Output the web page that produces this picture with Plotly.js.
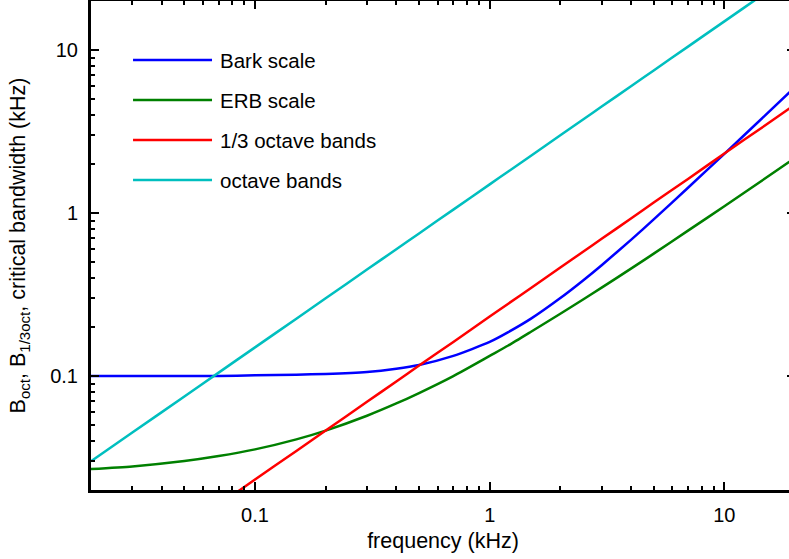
<!DOCTYPE html>
<html>
<head>
<meta charset="utf-8">
<script src="https://cdn.plot.ly/plotly-3.0.1.min.js"></script>
<style>
html,body{margin:0;padding:0;overflow:hidden;background:#fff;}
#chart{width:805px;height:559px;}
</style>
</head>
<body>
<div id="chart"></div>
<script>
// frequency (kHz)
var freq = [0.02,0.03,0.05,0.07,0.1,0.15,0.2,0.3,0.4,0.5,0.7,1,1.2,1.5,2,2.5,3,4,5,7,10,15,20];
// bandwidths (kHz)
var barkBW = [0.100,0.100,0.100,0.100,0.101,0.102,0.103,0.106,0.111,0.117,0.133,0.162,0.186,0.225,0.301,0.386,0.479,0.685,0.914,1.43,2.31,4.00,5.94];
var erbBW = [0.0269,0.0279,0.0301,0.0323,0.0355,0.0409,0.0463,0.0571,0.0679,0.0787,0.100,0.133,0.154,0.187,0.241,0.295,0.349,0.456,0.564,0.780,1.10,1.64,2.18];
var thirdOctBW = [0.00463,0.00695,0.0116,0.0162,0.0232,0.0347,0.0463,0.0695,0.0926,0.116,0.162,0.232,0.278,0.347,0.463,0.579,0.695,0.926,1.16,1.62,2.32,3.47,4.63];
var octBW = [0.030,0.045,0.075,0.105,0.150,0.225,0.300,0.450,0.600,0.750,1.05,1.50,1.80,2.25,3.00,3.75,4.50,6.00,7.50,10.5,15.0,22.5,30.0];

var seriesNames = ["Bark scale","ERB scale","1/3 octave bands","octave bands"];
var seriesData = [barkBW, erbBW, thirdOctBW, octBW];
var seriesColors = ["#0000ff","#008000","#ff0000","#00bfbf"];

var tickVals = [0.1, 1, 10];
var tickText = ["0.1", "1", "10"];
var minorVals = [0.03,0.04,0.05,0.06,0.07,0.08,0.09,0.2,0.3,0.4,0.5,0.6,0.7,0.8,0.9,2,3,4,5,6,7,8,9];

var FONT = "Liberation Sans, Arial, Helvetica, sans-serif";

var traces = seriesData.map(function(d, i){
  return {
    x: freq, y: d, type: "scatter", mode: "lines", name: seriesNames[i],
    line: {color: seriesColors[i], width: 2.5, shape: "spline", smoothing: 0.6},
    showlegend: false, hoverinfo: "skip"
  };
});

// manual legend (no box), lines + labels in paper coords
var shapes = [], annotations = [];
var legY = [0.8793, 0.7975, 0.7157, 0.6339];
seriesNames.forEach(function(n, i){
  shapes.push({type:"line", xref:"paper", yref:"paper", x0:0.0597, x1:0.1719, y0:legY[i], y1:legY[i],
    line:{color:seriesColors[i], width:2.5}});
  annotations.push({xref:"paper", yref:"paper", x:0.1805, y:legY[i], xanchor:"left", yanchor:"middle",
    text:n, showarrow:false, font:{family:FONT, size:20.5, color:"#000"}});
});

function axis(titleText){
  return {
    type: "log",
    range: [Math.log10(0.02), Math.log10(20)],
    tickmode: "array", tickvals: tickVals, ticktext: tickText,
    ticks: "inside", ticklen: 8, tickwidth: 2, tickcolor: "#000",
    minor: {tickmode: "array", tickvals: minorVals,
            ticks: "inside", ticklen: 4, tickwidth: 2, tickcolor: "#000", showgrid: false},
    showline: true, linewidth: 3, linecolor: "#000", mirror: "ticks",
    showgrid: false, zeroline: false,
    tickfont: {family: FONT, size: 20, color: "#000"},
    title: {text: titleText, font: {family: FONT, size: 21.5, color: "#000"}},
    automargin: false
  };
}

var xa = axis("frequency (kHz)");
xa.ticklabelstandoff = 5;
xa.title.standoff = 8;
var ya = axis("B<sub>oct</sub>, B<sub>1/3oct</sub>, critical bandwidth (kHz)");
ya.ticklabelstandoff = 6;
ya.title.standoff = 19;

var layout = {
  width: 805, height: 559,
  margin: {l: 91, r: 10, t: 1, b: 69},
  paper_bgcolor: "#fff", plot_bgcolor: "#fff",
  xaxis: xa, yaxis: ya,
  shapes: shapes, annotations: annotations,
  font: {family: FONT, color: "#000"}
};

Plotly.newPlot("chart", traces, layout, {staticPlot: true, displayModeBar: false});
</script>
</body>
</html>
